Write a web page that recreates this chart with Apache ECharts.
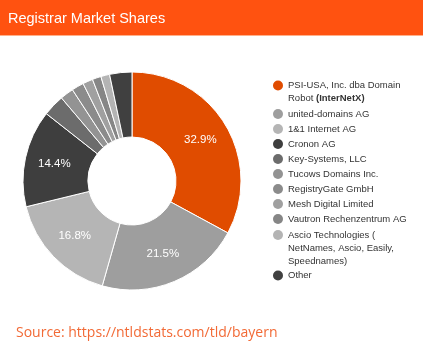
<!DOCTYPE html>
<html>
<head>
<meta charset="utf-8">
<script src="https://cdn.jsdelivr.net/npm/echarts@6/dist/echarts.min.js"></script>
<style>
  html, body { margin: 0; padding: 0; background: #fff; }
  #chart { width: 423px; height: 351px; }
</style>
</head>
<body>
<div id="chart"></div>
<script>
const registrars = [
  "PSI-USA, Inc. dba Domain Robot (InterNetX)",
  "united-domains AG",
  "1&1 Internet AG",
  "Cronon AG",
  "Key-Systems, LLC",
  "Tucows Domains Inc.",
  "RegistryGate GmbH",
  "Mesh Digital Limited",
  "Vautron Rechenzentrum AG",
  "Ascio Technologies ( NetNames, Ascio, Easily, Speednames)",
  "Other"
];
const shares = [32.9, 21.5, 16.8, 14.4, 3.2, 2.0, 1.8, 1.5, 1.3, 1.3, 3.3];
const sliceColors = [
  "#e04c00", "#9e9e9e", "#b5b5b5", "#3e3e3e", "#6c6c6c", "#939393",
  "#8b8b8b", "#a0a0a0", "#868686", "#b4b4b4", "#404040"
];

// how the long legend names wrap
const legendText = {
  "PSI-USA, Inc. dba Domain Robot (InterNetX)": "PSI-USA, Inc. dba Domain\nRobot {b|(InterNetX)}",
  "Ascio Technologies ( NetNames, Ascio, Easily, Speednames)": "Ascio Technologies (\nNetNames, Ascio, Easily,\nSpeednames)"
};

const chart = echarts.init(document.getElementById("chart"));

// one legend block; padTop pushes wrapped text down so the dot sits on line 1
function legendBlock(names, top, padTop) {
  return {
    orient: "vertical",
    left: 273,
    top: top,
    padding: 0,
    itemGap: 2,
    itemWidth: 10,
    itemHeight: 10,
    icon: "circle",
    itemStyle: { borderWidth: 0 },
    selectedMode: false,
    data: names,
    formatter: name => legendText[name] || name,
    textStyle: {
      fontFamily: "Liberation Sans",
      fontSize: 9.5,
      color: "#333",
      lineHeight: 13,
      padding: [padTop, 0, 0, 0],
      rich: {
        b: { fontFamily: "Liberation Sans", fontSize: 9.5, fontWeight: "bold", color: "#333", lineHeight: 13 }
      }
    }
  };
}

const option = {
  animation: false,
  color: sliceColors,
  graphic: [
    { type: "rect", left: 0, top: 0, shape: { width: 423, height: 35 }, style: { fill: "#ff5210" }, z: 0 },
    { type: "rect", left: 0, top: 35, shape: { width: 423, height: 1 }, style: { fill: "#ffb08a" }, z: 0 }
  ],
  title: [
    {
      text: "Registrar Market Shares",
      left: 8,
      top: 11,
      padding: 0,
      textStyle: { fontFamily: "Liberation Sans", fontSize: 14.5, fontWeight: "normal", color: "#fff" }
    },
    {
      text: "Source: https://ntldstats.com/tld/bayern",
      left: 16,
      top: 326,
      padding: 0,
      textStyle: { fontFamily: "Open Sans", fontSize: 14, fontWeight: "normal", color: "#f26a36" }
    }
  ],
  legend: [
    legendBlock([registrars[0]], 66, 13),
    legendBlock(registrars.slice(1, 9), 107.5, 0),
    legendBlock([registrars[9]], 202.5, 26),
    legendBlock([registrars[10]], 269, 0)
  ],
  series: [
    {
      type: "pie",
      center: [132, 181],
      radius: [44, 109],
      startAngle: 90,
      clockwise: true,
      avoidLabelOverlap: false,
      itemStyle: { borderColor: "#fff", borderWidth: 1 },
      emphasis: { disabled: true },
      label: {
        show: true,
        position: "inside",
        color: "#fff",
        fontFamily: "Liberation Sans",
        fontSize: 11.5,
        formatter: p => (p.value >= 10 ? p.value.toFixed(1) + "%" : "")
      },
      labelLine: { show: false },
      data: registrars.map((name, i) => ({ name: name, value: shares[i] }))
    }
  ]
};

chart.setOption(option);
</script>
</body>
</html>
